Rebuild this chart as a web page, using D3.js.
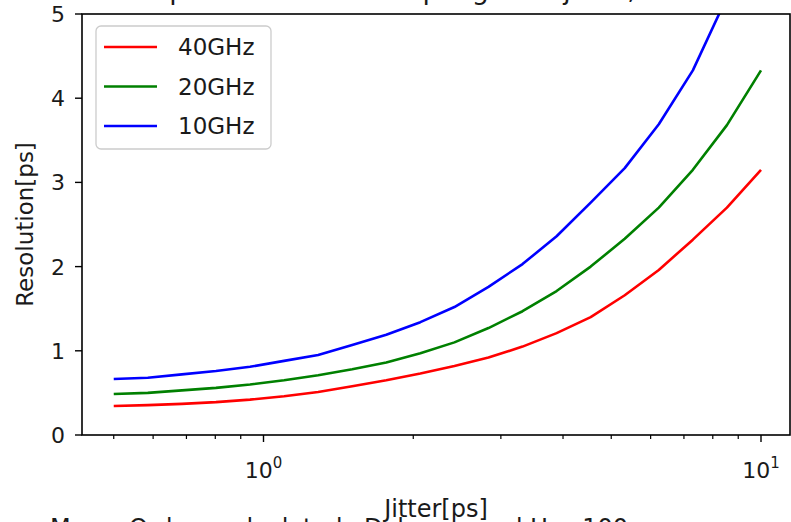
<!DOCTYPE html>
<html><head><meta charset="utf-8">
<script src="https://cdn.jsdelivr.net/npm/d3@7"></script>
<style>body{margin:0;background:#fff}svg{display:block}text{font-family:"DejaVu Sans",sans-serif;fill:#1a1a1a}</style>
</head><body><svg id="c" width="791" height="522"></svg>
<script>
const jitter = [0.5, 0.5854, 0.6854, 0.8024, 0.9394, 1.0999, 1.2877, 1.5076, 1.7650, 2.0667, 2.4195, 2.8327, 3.3164, 3.8828, 4.5460, 5.3223, 6.2311, 7.2952, 8.5410, 10];
const res40 = [0.345,0.355,0.37,0.39,0.42,0.46,0.51,0.58,0.65,0.73,0.82,0.92,1.05,1.21,1.40,1.66,1.96,2.32,2.70,3.15];
const res20 = [0.487,0.50,0.53,0.56,0.60,0.65,0.71,0.78,0.86,0.97,1.10,1.27,1.47,1.71,2.00,2.33,2.70,3.15,3.68,4.33];
const res10 = [0.665,0.68,0.72,0.76,0.81,0.88,0.95,1.07,1.19,1.34,1.52,1.76,2.03,2.36,2.76,3.17,3.69,4.33,5.2,6.1];
const seriesNames = ["40GHz","20GHz","10GHz"];
const seriesColors = ["#ff0000","#008000","#0000ff"];
const yTicks = [0,1,2,3,4,5];
const xMajor = [1,10];
const xMinor = [0.5,0.6,0.7,0.8,0.9,2,3,4,5,6,7,8,9];
const titleText = "Resolution comparison under sampling with jitter, ";
const xLabel = "Jitter[ps]", yLabel = "Resolution[ps]";
const footText = "Max.  Order  calculated  Delay  per  kHz 100";

const svg = d3.select("#c");
const L = 82, R = 790, T = 14, B = 435;
const x = d3.scaleLog().domain([1,10]).range([263.5,761]);
const y = d3.scaleLinear().domain([0,5]).range([B,T]);

svg.append("defs").append("clipPath").attr("id","clip")
  .append("rect").attr("x",L).attr("y",T).attr("width",R-L).attr("height",B-T);

const series = [res40,res20,res10];
const line = d3.line().x((d,i)=>x(jitter[i])).y(d=>y(d));
const g = svg.append("g").attr("clip-path","url(#clip)");
series.forEach((s,k)=>{
  g.append("path").datum(s).attr("d",line).attr("fill","none")
   .attr("stroke",seriesColors[k]).attr("stroke-width",2.6).attr("stroke-linejoin","round");
});

// spines
svg.append("rect").attr("x",L).attr("y",T).attr("width",R-L).attr("height",B-T)
  .attr("fill","none").attr("stroke","#000").attr("stroke-width",1.6);

// y ticks
yTicks.forEach(t=>{
  svg.append("line").attr("x1",L-7).attr("x2",L).attr("y1",y(t)).attr("y2",y(t)).attr("stroke","#000").attr("stroke-width",1.4);
  svg.append("text").attr("x",L-17).attr("y",y(t)).attr("dy","0.36em").attr("text-anchor","end")
    .attr("font-size",22).text(t);
});
// x ticks
xMajor.forEach(t=>{
  svg.append("line").attr("x1",x(t)).attr("x2",x(t)).attr("y1",B).attr("y2",B+7).attr("stroke","#000").attr("stroke-width",1.4);
  const tx = svg.append("text").attr("x",x(t)).attr("y",B+43).attr("text-anchor","middle").attr("font-size",22);
  tx.append("tspan").text("10");
  tx.append("tspan").attr("dy",-10).attr("font-size",15).text(Math.round(Math.log10(t)));
});
xMinor.forEach(t=>{
  svg.append("line").attr("x1",x(t)).attr("x2",x(t)).attr("y1",B).attr("y2",B+4).attr("stroke","#000").attr("stroke-width",1.2);
});

// axis labels
svg.append("text").attr("x",436).attr("y",517).attr("text-anchor","middle").attr("font-size",24).text(xLabel);
svg.append("text").attr("transform","translate(33,"+((T+B)/2)+") rotate(-90)").attr("text-anchor","middle")
  .attr("font-size",23).text(yLabel);

// partial title and footer (cropped)
svg.append("text").attr("x",-38).attr("y",-1).attr("font-size",27).text(titleText);
svg.append("text").attr("x",50).attr("y",536).attr("font-size",24).style("word-spacing","14px").text(footText);

// legend
const lg = svg.append("g");
lg.append("rect").attr("x",96).attr("y",26).attr("width",175).attr("height",123).attr("rx",5)
  .attr("fill","#fff").attr("fill-opacity",0.8).attr("stroke","#cccccc").attr("stroke-width",1.3);
seriesNames.forEach((n,k)=>{
  const yy = 47 + k*39.5;
  lg.append("line").attr("x1",104).attr("x2",157).attr("y1",yy).attr("y2",yy).attr("stroke",seriesColors[k]).attr("stroke-width",2.6);
  lg.append("text").attr("x",178).attr("y",yy).attr("dy","0.36em").attr("font-size",23).text(n);
});
</script></body></html>
